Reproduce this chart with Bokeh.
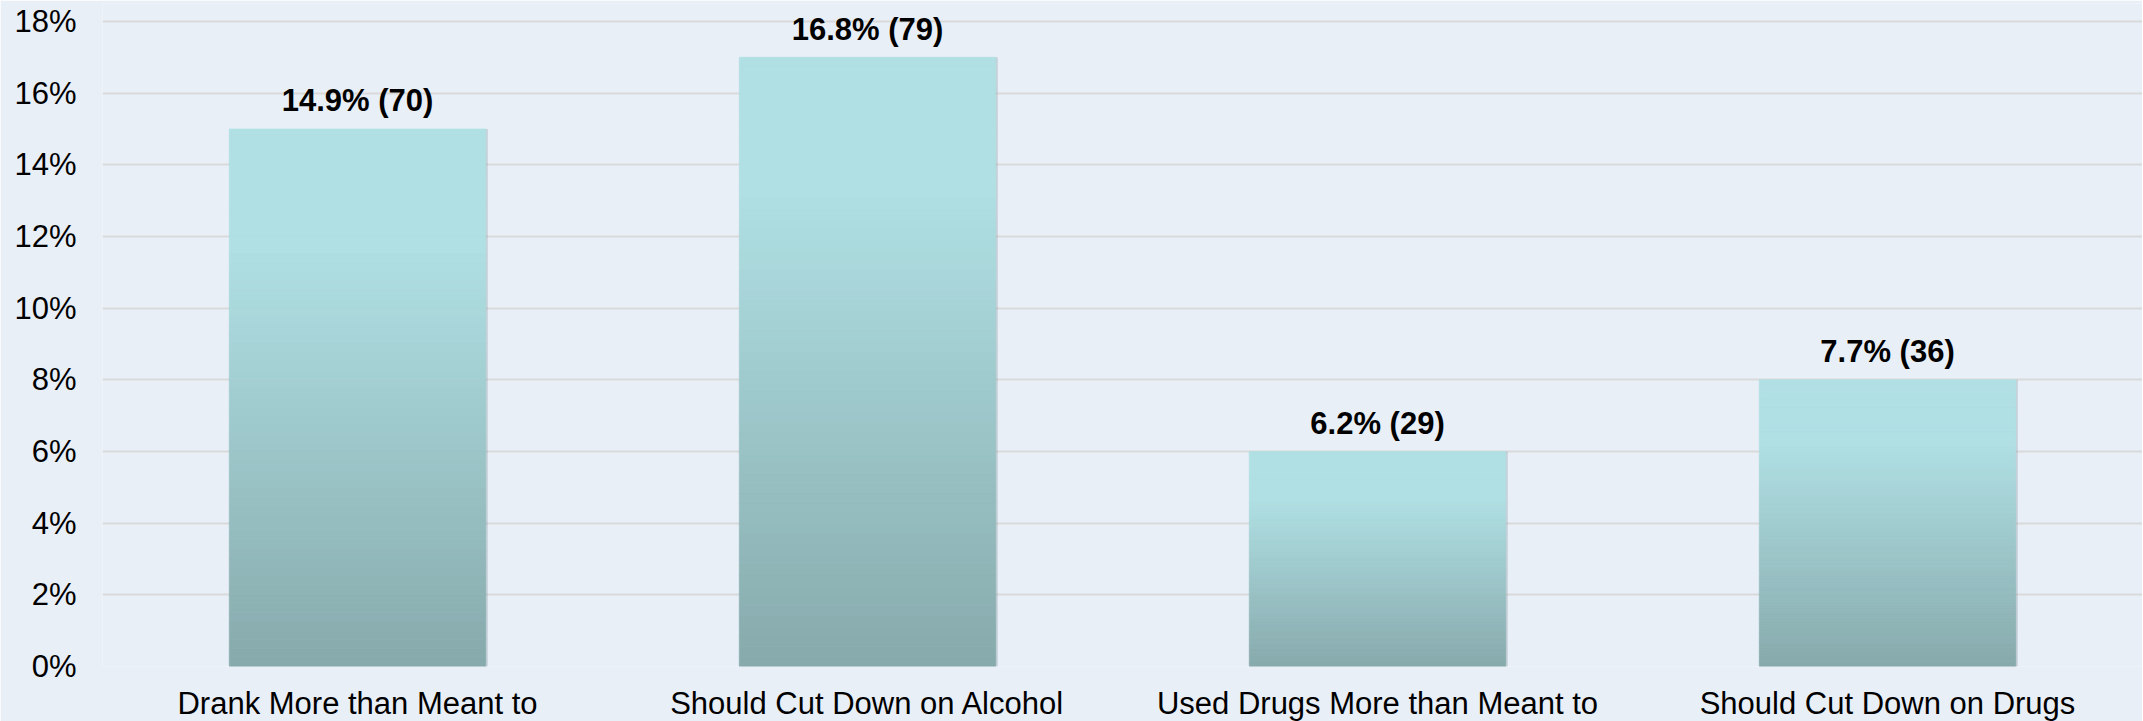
from bokeh.plotting import figure
from bokeh.models import FactorRange, Range1d, FixedTicker, ColumnDataSource
from bokeh.transform import dodge
from bokeh.embed import file_html
from bokeh.resources import INLINE
from bokeh.core.properties import value

# ---- data ----
categories = ["Drank More than Meant to", "Should Cut Down on Alcohol",
              "Used Drugs More than Meant to", "Should Cut Down on Drugs"]
bar_heights = [15, 17, 6, 8]          # bar tops as drawn (percent)
label_pct = [14.9, 16.8, 6.2, 7.7]    # printed percentages
label_n = [70, 79, 29, 36]            # printed counts
y_ticks = [0, 2, 4, 6, 8, 10, 12, 14, 16, 18]

BG = "#e9eff7"
FONT = "Liberation Sans"

# y range extends a little above 18% so the top value label is not clipped
p = figure(x_range=FactorRange(*categories, range_padding=0),
           y_range=Range1d(0, 18.5),
           output_backend="svg", toolbar_location=None,
           frame_width=2040, frame_height=663,
           min_border_left=102, min_border_right=0, min_border_top=3,
           min_border_bottom=40)

p.background_fill_color = BG
p.border_fill_color = BG
p.outline_line_color = None

p.xgrid.grid_line_color = None
p.ygrid.grid_line_color = "#d9d9d9"
p.ygrid.grid_line_width = 2

# soft shadow to the right of each bar
shadow = ColumnDataSource(dict(x=categories, top=bar_heights))
p.vbar(x=dodge("x", 0.004, range=p.x_range), top="top", width=0.503,
       source=shadow, fill_color="#8a98a0", fill_alpha=0.35, line_color=None)

# gradient bars: slices from top to bottom
N = 60
top_c = (176, 224, 228)
bot_c = (135, 170, 172)
xs, tops, bots, cols = [], [], [], []
for cat, h in zip(categories, bar_heights):
    for k in range(N):
        t0 = k / N
        t1 = (k + 1) / N
        tm = (t0 + t1) / 2
        f = 0.0 if tm < 0.22 else (tm - 0.22) / 0.78
        c = tuple(int(round(a + (b - a) * f)) for a, b in zip(top_c, bot_c))
        xs.append(cat)
        tops.append(h * (1 - t0))
        bots.append(h * (1 - t1))
        cols.append("#%02x%02x%02x" % c)

src = ColumnDataSource(dict(x=xs, top=tops, bottom=bots, color=cols))
p.vbar(x="x", top="top", bottom="bottom", width=0.503, source=src,
       fill_color="color", line_color="color", line_width=0.6)

# value labels
lab = ColumnDataSource(dict(x=categories, y=bar_heights,
                            text=[f"{a}% ({n})" for a, n in zip(label_pct, label_n)]))
p.text(x="x", y="y", text="text", source=lab, text_align="center",
       text_baseline="alphabetic", y_offset=-28,
       text_font=value(FONT), text_font_style="bold",
       text_font_size="31px", text_color="#000000")

# axes
p.yaxis.ticker = FixedTicker(ticks=y_ticks)
p.yaxis.major_label_overrides = {t: f"{t}%" for t in y_ticks}
for ax in (p.xaxis[0], p.yaxis[0]):
    ax.axis_line_color = None
    ax.major_tick_line_color = None
    ax.minor_tick_line_color = None
    ax.major_label_text_font = FONT
    ax.major_label_text_font_size = "31px"
    ax.major_label_text_color = "#000000"
p.yaxis.major_label_standoff = 20
p.xaxis.major_label_standoff = 13

html = file_html(p, INLINE)
html = html.replace("<body>", f'<body style="background:{BG};overflow:hidden">', 1)
open("out.html", "w").write(html)
